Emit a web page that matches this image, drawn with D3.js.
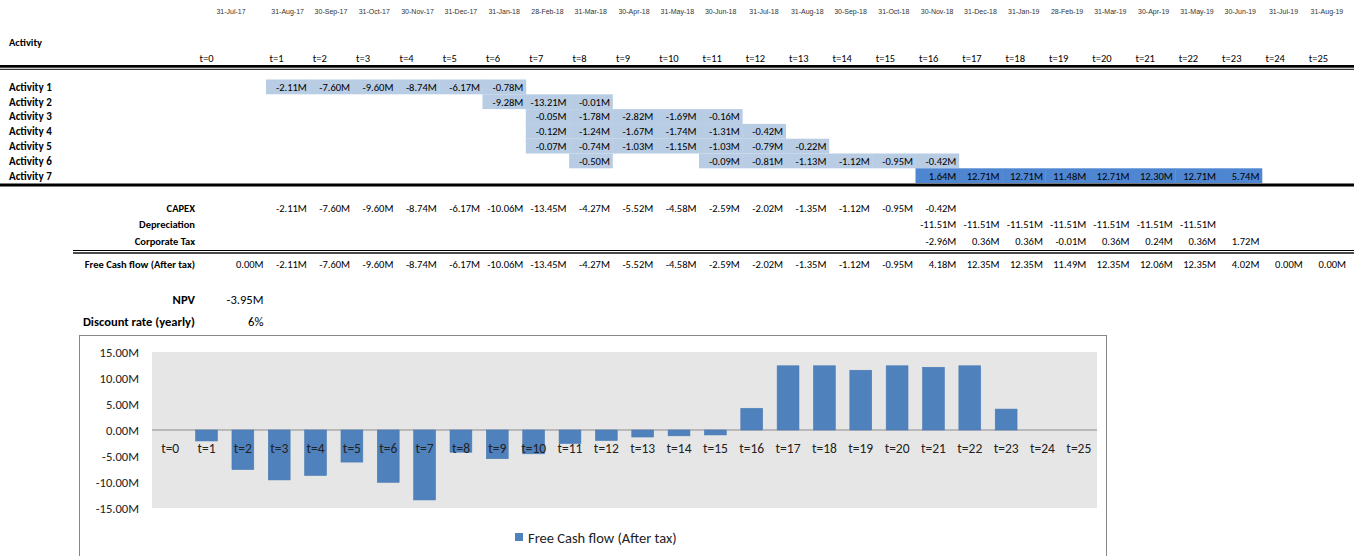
<!DOCTYPE html>
<html>
<head>
<meta charset="utf-8">
<script src="https://cdn.jsdelivr.net/npm/d3@7"></script>
<style>
  html, body { margin: 0; padding: 0; background: #fff; }
  svg { display: block; }
  .cell { font-family: Carlito, Calibri, Lato, sans-serif; font-size: 10.5px; fill: #000; }
  .big { font-size: 12.6px; }
  .bold { font-weight: bold; }
  .date { font-family: "Liberation Sans", Arial, sans-serif; font-size: 7px; fill: #333; }
  .chart text { font-family: Carlito, Calibri, Lato, sans-serif; }
</style>
</head>
<body>
<svg id="sheet" width="1354" height="556"></svg>
<script>
// ---- Timeline ----
const periods = d3.range(26).map(i => "t=" + i);
const dates = ["31-Jul-17","31-Aug-17","30-Sep-17","31-Oct-17","30-Nov-17","31-Dec-17",
  "31-Jan-18","28-Feb-18","31-Mar-18","30-Apr-18","31-May-18","30-Jun-18","31-Jul-18",
  "31-Aug-18","30-Sep-18","31-Oct-18","30-Nov-18","31-Dec-18","31-Jan-19","28-Feb-19",
  "31-Mar-19","30-Apr-19","31-May-19","30-Jun-19","31-Jul-19","31-Aug-19"];

// ---- Activity cash flows (M), first value sits at the start period; null = empty cell ----
const activityNames = ["Activity 1","Activity 2","Activity 3","Activity 4","Activity 5","Activity 6","Activity 7"];
const activityStart = [1, 6, 7, 7, 7, 8, 16];
const activity1 = [-2.11, -7.60, -9.60, -8.74, -6.17, -0.78];
const activity2 = [-9.28, -13.21, -0.01];
const activity3 = [-0.05, -1.78, -2.82, -1.69, -0.16];
const activity4 = [-0.12, -1.24, -1.67, -1.74, -1.31, -0.42];
const activity5 = [-0.07, -0.74, -1.03, -1.15, -1.03, -0.79, -0.22];
const activity6 = [-0.50, null, null, -0.09, -0.81, -1.13, -1.12, -0.95, -0.42];
const activity7 = [1.64, 12.71, 12.71, 11.48, 12.71, 12.30, 12.71, 5.74];
const activityValues = [activity1, activity2, activity3, activity4, activity5, activity6, activity7];

// ---- Summary rows (M) ----
const capexStart = 1;
const capex = [-2.11, -7.60, -9.60, -8.74, -6.17, -10.06, -13.45, -4.27, -5.52, -4.58,
  -2.59, -2.02, -1.35, -1.12, -0.95, -0.42];
const depreciationStart = 16;
const depreciation = [-11.51, -11.51, -11.51, -11.51, -11.51, -11.51, -11.51];
const taxStart = 16;
const corporateTax = [-2.96, 0.36, 0.36, -0.01, 0.36, 0.24, 0.36, 1.72];
const freeCashFlow = [0.00, -2.11, -7.60, -9.60, -8.74, -6.17, -10.06, -13.45, -4.27, -5.52,
  -4.58, -2.59, -2.02, -1.35, -1.12, -0.95, 4.18, 12.35, 12.35, 11.49, 12.35, 12.06, 12.35,
  4.02, 0.00, 0.00];
const npv = -3.95;
const discountRate = "6%";

// ---- Chart axis ----
const yTicks = [-15, -10, -5, 0, 5, 10, 15];

// Spreadsheet-style number format with a plain hyphen for negatives
const fmtM = v => v.toFixed(2) + "M";
const svg = d3.select("#sheet");

// Column grid: a wider first column (t=0), then equal columns
const col0 = [196, 266];
const cols = d3.scaleBand().domain(periods.slice(1)).range([266, 266 + 25 * 43.3]);
const cellLeft = i => i === 0 ? col0[0] : cols(periods[i]);
const cellRight = i => i === 0 ? col0[1] : cols(periods[i]) + cols.bandwidth();

const g = svg.append("g");

// Dates
g.selectAll("text.date").data(dates).join("text")
  .attr("class", "date")
  .attr("x", (d, i) => (cellLeft(i) + cellRight(i)) / 2)
  .attr("y", 13.5)
  .attr("text-anchor", "middle")
  .text(d => d);

// Header
g.append("text").attr("class", "cell bold").attr("x", 9).attr("y", 45.5).text("Activity");
g.selectAll("text.period").data(periods).join("text")
  .attr("class", "cell period")
  .attr("x", (d, i) => cellLeft(i) + 3.5)
  .attr("y", 61.5)
  .text(d => d);
g.append("rect").attr("x", 0).attr("y", 65).attr("width", 1354).attr("height", 2.7).attr("fill", "#000");
g.append("rect").attr("x", 0).attr("y", 68.8).attr("width", 1354).attr("height", 1).attr("fill", "#000");

// Activity rows
const rows = d3.scaleBand().domain(activityNames).range([79.5, 79.5 + 7 * 14.8]);
activityNames.forEach((name, k) => {
  const top = rows(name);
  const h = rows.bandwidth();
  const cells = activityValues[k]
    .map((v, j) => ({ v, i: activityStart[k] + j }))
    .filter(c => c.v !== null);
  const fill = k === 6 ? "#4f86d2" : "#b8cce4";
  g.selectAll(null).data(cells).join("rect")
    .attr("x", c => cellLeft(c.i))
    .attr("y", top)
    .attr("width", c => cellRight(c.i) - cellLeft(c.i) + 0.4)
    .attr("height", h)
    .attr("fill", fill);
  g.append("text").attr("class", "cell bold").attr("x", 9).attr("y", top + 11.3)
    .style("font-size", "11px").text(name);
  g.selectAll(null).data(cells).join("text")
    .attr("class", "cell")
    .attr("x", c => cellRight(c.i) - 2.5)
    .attr("y", top + 11.3)
    .attr("text-anchor", "end")
    .text(c => fmtM(c.v));
});
g.append("rect").attr("x", 0).attr("y", 183.5).attr("width", 1354).attr("height", 3).attr("fill", "#000");

// Summary rows
function summaryRow(label, start, values, baseline) {
  g.append("text").attr("class", "cell bold").attr("x", 195).attr("y", baseline)
    .attr("text-anchor", "end").text(label);
  g.selectAll(null).data(values.map((v, j) => ({ v, i: start + j }))).join("text")
    .attr("class", "cell")
    .attr("x", c => cellRight(c.i) - 2.5)
    .attr("y", baseline)
    .attr("text-anchor", "end")
    .text(c => fmtM(c.v));
}
summaryRow("CAPEX", capexStart, capex, 211.7);
summaryRow("Depreciation", depreciationStart, depreciation, 227.7);
summaryRow("Corporate Tax", taxStart, corporateTax, 244.7);
g.append("rect").attr("x", 73).attr("y", 250).attr("width", 1281).attr("height", 1).attr("fill", "#000");
g.append("rect").attr("x", 73).attr("y", 252.3).attr("width", 1281).attr("height", 1.4).attr("fill", "#000");
summaryRow("Free Cash flow (After tax)", 0, freeCashFlow, 267.7);

g.append("text").attr("class", "cell big bold").attr("x", 195).attr("y", 304.3).attr("text-anchor", "end").text("NPV");
g.append("text").attr("class", "cell big").attr("x", 263.5).attr("y", 304.3).attr("text-anchor", "end").text(fmtM(npv));
g.append("text").attr("class", "cell big bold").attr("x", 195).attr("y", 326.3).attr("text-anchor", "end").text("Discount rate (yearly)");
g.append("text").attr("class", "cell big").attr("x", 263.5).attr("y", 326.3).attr("text-anchor", "end").text(discountRate);

// ---- Free cash flow chart ----
const chart = svg.append("g").attr("class", "chart");
chart.append("rect").attr("x", 79.5).attr("y", 335.5).attr("width", 1027).attr("height", 260)
  .attr("fill", "#fff").attr("stroke", "#878787").attr("stroke-width", 1);

const plot = { left: 152, right: 1097, top: 352, bottom: 508 };
chart.append("rect").attr("x", plot.left).attr("y", plot.top)
  .attr("width", plot.right - plot.left).attr("height", plot.bottom - plot.top)
  .attr("fill", "#e6e6e6");

const x = d3.scaleBand().domain(periods).range([plot.left, plot.right])
  .paddingInner(0.4).paddingOuter(0.2);
const y = d3.scaleLinear().domain([-15, 15]).range([plot.bottom, plot.top]);

const yAxis = chart.append("g").attr("transform", `translate(${plot.left},0)`)
  .call(d3.axisLeft(y).tickValues(yTicks).tickSize(0).tickPadding(13).tickFormat(fmtM));
yAxis.select(".domain").remove();
yAxis.selectAll("text").attr("font-size", 12.6).attr("fill", "#222")
  .attr("font-family", "Carlito, Calibri, Lato, sans-serif");

chart.append("line").attr("x1", plot.left).attr("x2", plot.right)
  .attr("y1", y(0)).attr("y2", y(0)).attr("stroke", "#8c8c8c").attr("stroke-width", 1);

chart.selectAll("rect.bar").data(freeCashFlow).join("rect")
  .attr("class", "bar")
  .attr("x", (d, i) => x(periods[i]))
  .attr("width", x.bandwidth())
  .attr("y", d => y(Math.max(0, d)))
  .attr("height", d => Math.abs(y(d) - y(0)))
  .attr("fill", "#4f81bd")
  .attr("stroke", "#4a7ab4").attr("stroke-width", 0.6);

const xAxis = chart.append("g").attr("transform", `translate(0,${y(0)})`)
  .call(d3.axisBottom(x).tickSize(0).tickPadding(13.5));
xAxis.select(".domain").remove();
xAxis.selectAll("text").attr("font-size", 13.5).attr("fill", "#222")
  .attr("font-family", "Carlito, Calibri, Lato, sans-serif");

// Legend
chart.append("rect").attr("x", 515).attr("y", 533).attr("width", 8).attr("height", 8).attr("fill", "#4f81bd");
chart.append("text").attr("x", 528).attr("y", 543).attr("font-size", 14.5).attr("fill", "#222")
  .text("Free Cash flow (After tax)");
</script>
</body>
</html>
